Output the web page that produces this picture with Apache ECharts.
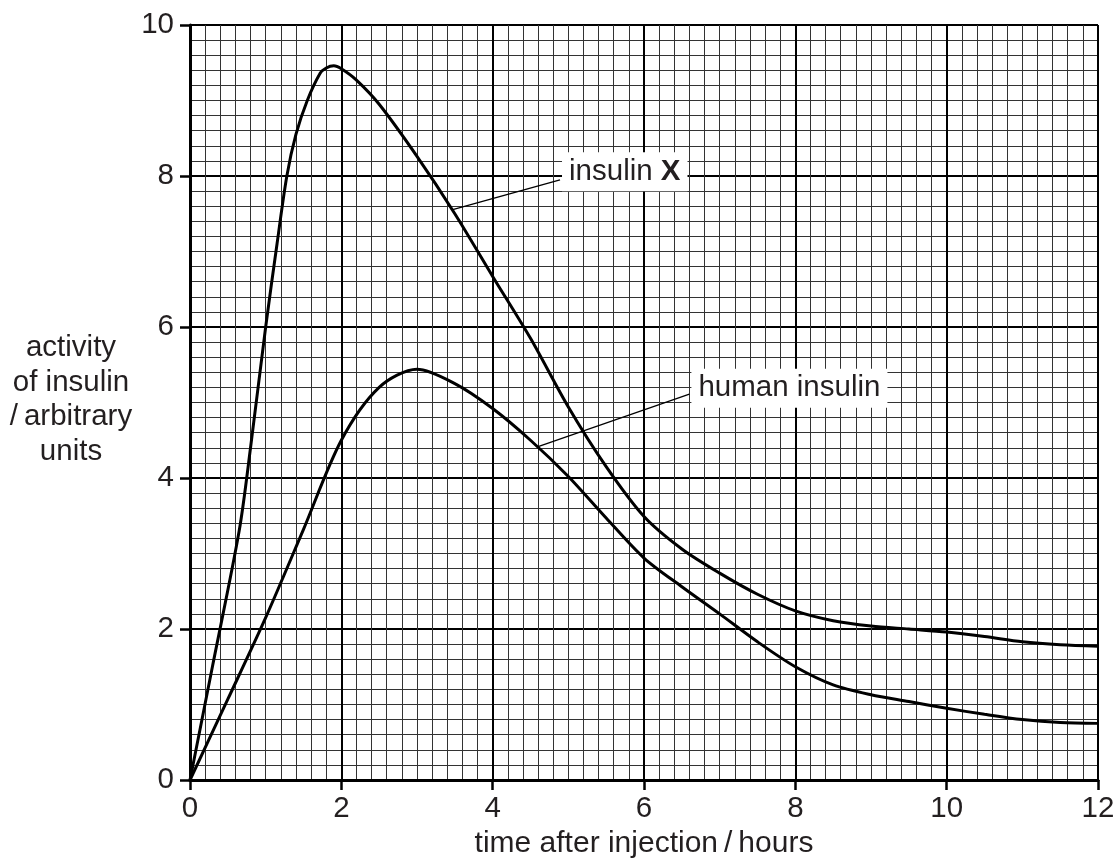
<!DOCTYPE html>
<html><head><meta charset="utf-8">
<script src="https://cdn.jsdelivr.net/npm/echarts@6/dist/echarts.min.js"></script>
<style>html,body{margin:0;padding:0;background:#fff}#c{width:1117px;height:858px}</style>
</head><body><div id="c"></div>
<script>
// ---- data ----
const xTickValues = [0, 2, 4, 6, 8, 10, 12];
const yTickValues = [0, 2, 4, 6, 8, 10];

const insulinXTime     = [0, 0.3, 0.65, 0.8, 1.0, 1.15, 1.28, 1.4, 1.55, 1.72, 1.8, 1.9, 2.0, 2.2, 2.5, 3.0, 3.5, 4.0, 4.5, 5.0, 5.5, 6.0, 6.5, 7.0, 7.5, 8.0, 8.5, 9.0, 9.5, 10.0, 10.5, 11.0, 11.5, 12.0];
const insulinXActivity = [0, 1.52, 3.3, 4.4, 6.0, 7.1, 8.0, 8.55, 9.0, 9.36, 9.43, 9.46, 9.42, 9.27, 8.95, 8.26, 7.5, 6.67, 5.85, 4.94, 4.15, 3.49, 3.06, 2.74, 2.46, 2.24, 2.11, 2.04, 2.0, 1.96, 1.9, 1.83, 1.79, 1.77];

const humanTime     = [0, 0.5, 1.0, 1.5, 2.0, 2.5, 3.0, 3.5, 4.0, 4.5, 5.0, 5.5, 6.0, 6.5, 7.0, 7.5, 8.0, 8.5, 9.0, 9.5, 10.0, 10.5, 11.0, 11.5, 12.0];
const humanActivity = [0, 1.07, 2.15, 3.32, 4.5, 5.2, 5.44, 5.25, 4.92, 4.5, 4.02, 3.47, 2.94, 2.56, 2.2, 1.83, 1.5, 1.26, 1.13, 1.04, 0.95, 0.87, 0.8, 0.76, 0.75];

const labelInsulinX = 'insulin ';
const labelInsulinXBold = 'X';
const labelHuman = 'human insulin';
const leaderXTime = [3.46, 4.89];
const leaderXActivity = [7.55, 7.95];
const leaderHumanTime = [4.61, 6.60];
const leaderHumanActivity = [4.42, 5.11];

const xAxisName = 'time after injection\u2009/\u2009hours';
const yAxisName = 'activity\nof insulin\n/\u2009arbitrary\nunits';

// ---- chart ----
const zip = (a, b) => a.map((v, i) => [v, b[i]]);
const FONT = "'Liberation Sans', Arial, Helvetica, sans-serif";
const TXT = '#231f20';
const FS = 29.5;

const chart = echarts.init(document.getElementById('c'), null, {renderer: 'canvas'});

function axisCommon(min, max) {
  return {
    type: 'value', min: min, max: max, interval: 2,
    axisLine: {show: true, onZero: false, lineStyle: {color: '#000', width: 3}},
    axisTick: {show: true, length: 10, lineStyle: {color: '#000', width: 2.5}},
    axisLabel: {color: TXT, fontSize: FS, fontFamily: FONT},
    splitLine: {show: true, lineStyle: {color: '#000', width: 2}},
    minorTick: {show: false, splitNumber: 10},
    minorSplitLine: {show: true, lineStyle: {color: '#333', width: 1}}
  };
}

const xAxis = Object.assign(axisCommon(0, 12), {
  name: xAxisName, nameLocation: 'middle', nameGap: 48,
  nameTextStyle: {color: TXT, fontSize: 30, fontFamily: FONT}
});
xAxis.axisLabel = Object.assign({}, xAxis.axisLabel, {margin: 14});
const yAxis = axisCommon(0, 10);
yAxis.axisLabel = Object.assign({}, yAxis.axisLabel, {margin: 16});

const leaderLabelStyle = {
  show: true, position: 'right', distance: 2,
  backgroundColor: '#fff', padding: [5, 7, 4, 7],
  color: TXT, fontSize: FS, fontFamily: FONT
};

const option = {
  animation: false,
  backgroundColor: '#fff',
  grid: {left: 190, right: 19, top: 25, bottom: 78, containLabel: false, outerBoundsMode: 'none'},
  xAxis: xAxis,
  yAxis: yAxis,
  graphic: [{
    type: 'text', x: 71, y: 400, z: 10,
    style: {text: yAxisName, fill: TXT, font: FS + "px " + FONT,
            align: 'center', verticalAlign: 'middle', lineHeight: 34.5}
  }],
  series: [
    {type: 'line', name: 'insulin X', data: zip(insulinXTime, insulinXActivity),
     smooth: 0.3, showSymbol: false, symbol: 'none', z: 5,
     lineStyle: {color: '#000', width: 3}},
    {type: 'line', name: 'human insulin', data: zip(humanTime, humanActivity),
     smooth: 0.3, showSymbol: false, symbol: 'none', z: 5,
     lineStyle: {color: '#000', width: 3}},
    {type: 'line', z: 6, symbol: 'none', lineStyle: {color: '#000', width: 1.3},
     data: [
       {value: [leaderXTime[0], leaderXActivity[0]]},
       {value: [leaderXTime[1], leaderXActivity[1]],
        symbol: 'circle', symbolSize: 0.01,
        label: Object.assign({}, leaderLabelStyle, {
          offset: [0, -8],
          formatter: '{a|' + labelInsulinX + '}{b|' + labelInsulinXBold + '}',
          rich: {a: {color: TXT, fontSize: FS, fontFamily: FONT},
                 b: {color: TXT, fontSize: FS, fontFamily: FONT, fontWeight: 'bold'}}
        })}
     ]},
    {type: 'line', z: 6, symbol: 'none', lineStyle: {color: '#000', width: 1.3},
     data: [
       {value: [leaderHumanTime[0], leaderHumanActivity[0]]},
       {value: [leaderHumanTime[1], leaderHumanActivity[1]],
        symbol: 'circle', symbolSize: 0.01,
        label: Object.assign({}, leaderLabelStyle, {offset: [0, -6], formatter: labelHuman})}
     ]}
  ]
};
chart.setOption(option);
</script>
</body></html>
